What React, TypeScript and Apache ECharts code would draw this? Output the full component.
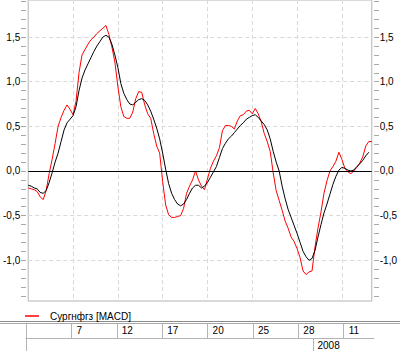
import React, { useEffect, useRef } from 'react';
import * as echarts from 'echarts';

// ---- data ----
const pointCount = 116;
const categories: string[] = Array.from({ length: pointCount }, (_, i) => String(i));

const macd: number[] = [
  -0.19, -0.20, -0.21, -0.23, -0.29, -0.32, -0.22, -0.03, 0.13, 0.31,
  0.50, 0.60, 0.68, 0.74, 0.69, 0.63, 0.78, 1.10, 1.30, 1.36,
  1.42, 1.47, 1.50, 1.54, 1.57, 1.60, 1.63, 1.53, 1.39, 1.22,
  0.95, 0.72, 0.61, 0.59, 0.59, 0.66, 0.81, 0.89, 0.88, 0.74,
  0.64, 0.59, 0.42, 0.28, 0.20, -0.12, -0.38, -0.49, -0.52, -0.52,
  -0.51, -0.50, -0.42, -0.25, -0.17, -0.10, 0.00, -0.10, -0.17, -0.21,
  -0.09, 0.03, 0.11, 0.17, 0.26, 0.45, 0.51, 0.51, 0.50, 0.47,
  0.56, 0.62, 0.63, 0.67, 0.68, 0.64, 0.70, 0.64, 0.55, 0.42,
  0.33, 0.22, -0.02, -0.22, -0.33, -0.44, -0.56, -0.64, -0.74, -0.79,
  -0.87, -0.97, -1.12, -1.16, -1.13, -1.12, -0.85, -0.64, -0.46, -0.25,
  -0.11, 0.00, 0.05, 0.11, 0.21, 0.13, 0.03, -0.01, -0.03, 0.00,
  0.04, 0.09, 0.16, 0.28, 0.33, 0.33,
];

const signal: number[] = [
  -0.16, -0.17, -0.19, -0.20, -0.24, -0.25, -0.22, -0.13, -0.02, 0.10,
  0.20, 0.33, 0.46, 0.54, 0.58, 0.62, 0.72, 0.90, 1.04, 1.13,
  1.20, 1.27, 1.34, 1.40, 1.45, 1.50, 1.52, 1.50, 1.42, 1.30,
  1.16, 0.98, 0.87, 0.80, 0.75, 0.74, 0.77, 0.80, 0.81, 0.79,
  0.74, 0.67, 0.58, 0.48, 0.36, 0.20, 0.02, -0.14, -0.25, -0.32,
  -0.37, -0.39, -0.37, -0.32, -0.25, -0.19, -0.16, -0.16, -0.19, -0.17,
  -0.13, -0.07, -0.01, 0.05, 0.15, 0.25, 0.31, 0.36, 0.39, 0.43,
  0.47, 0.51, 0.54, 0.58, 0.60, 0.62, 0.63, 0.60, 0.56, 0.52,
  0.46, 0.36, 0.22, 0.10, 0.00, -0.17, -0.31, -0.43, -0.52, -0.61,
  -0.70, -0.80, -0.90, -0.96, -1.00, -0.98, -0.89, -0.74, -0.60, -0.47,
  -0.37, -0.26, -0.15, -0.06, 0.01, 0.04, 0.03, 0.01, 0.00, 0.01,
  0.05, 0.08, 0.12, 0.17, 0.21,
];

const periodStarts: number[] = [15, 30, 45, 60, 75, 90, 105];
const periodLabels: string[] = ['7', '12', '17', '20', '25', '28', '11'];
const yearStarts: number[] = [95];
const yearLabels: string[] = ['2008'];

const seriesName = 'Сургнфгз [MACD]';

// ---- layout ----
const W = 400;
const H = 351;
const PLOT_LEFT = 26;
const PLOT_W = 348;
const PLOT_H = 301;
const Y_MIN = -1.456;
const Y_MAX = 1.915;
const TICK_MIN = -1.4;
const TICK_MAX = 1.9;
const FONT = 'Liberation Sans';
const FRAME = '#b4b4b4';
const GRIDLINE = '#d9d9d9';

const fmtY = (v: number) => {
  const r = Math.round(v * 2) / 2;
  if (Math.abs(v - r) > 1e-6) return '';
  return r.toFixed(1).replace('.', ',');
};

export default function App() {
  const ref = useRef<HTMLDivElement>(null);

  useEffect(() => {
    if (!ref.current) return;
    const chart = echarts.init(ref.current, undefined, { renderer: 'svg' });
    const span = Y_MAX - Y_MIN;
    const tickTop = (PLOT_H * (Y_MAX - TICK_MAX)) / span;
    const tickH = (PLOT_H * (TICK_MAX - TICK_MIN)) / span;
    const row1Top = 323;
    const row1H = 15.5;
    const row2Top = row1Top + row1H;
    const row2H = H - row2Top;

    const isPeriod = (i: number) => periodStarts.includes(i);
    const isYear = (i: number) => yearStarts.includes(i);

    const tickAxis = (pos: 'left' | 'right') => ({
      gridIndex: 1,
      type: 'value',
      position: pos,
      min: TICK_MIN,
      max: TICK_MAX,
      interval: 0.1,
      axisLine: { show: false },
      axisTick: { show: true, length: 5, lineStyle: { color: '#a8a8a8' } },
      axisLabel: { show: false },
      splitLine: { show: false },
    });

    const labelAxis = (pos: 'left' | 'right', split: boolean) => ({
      gridIndex: 0,
      type: 'value',
      position: pos,
      min: Y_MIN,
      max: Y_MAX,
      splitNumber: 7,
      axisLine: { show: false },
      axisTick: { show: false },
      axisLabel: {
        show: true,
        margin: 8,
        color: '#000',
        fontSize: 10,
        fontFamily: FONT,
        formatter: fmtY,
      },
      splitLine: {
        show: split,
        lineStyle: { color: GRIDLINE, type: [4, 3], width: 1 },
      },
    });

    const frameY = (gi: number) => ({
      gridIndex: gi,
      type: 'value',
      min: 0,
      max: 1,
      axisLine: { show: true, onZero: false, lineStyle: { color: FRAME } },
      axisTick: { show: false },
      axisLabel: { show: false },
      splitLine: { show: false },
    });

    chart.setOption({
      animation: false,
      grid: [
        {
          left: PLOT_LEFT, top: 0, width: PLOT_W, height: PLOT_H,
          show: true, borderColor: FRAME, borderWidth: 1, backgroundColor: 'transparent',
        },
        { left: PLOT_LEFT, top: tickTop, width: PLOT_W, height: tickH },
        { left: PLOT_LEFT, top: row1Top, width: PLOT_W, height: row1H },
        { left: PLOT_LEFT, top: row2Top, width: PLOT_W, height: row2H },
      ],
      legend: {
        data: [seriesName],
        left: 20,
        top: 306,
        icon: 'rect',
        itemWidth: 14,
        itemHeight: 1.5,
        textStyle: { fontSize: 10, color: '#000', fontFamily: FONT, padding: [0, 0, 0, 6] },
      },
      xAxis: [
        {
          gridIndex: 0,
          type: 'category',
          data: categories,
          boundaryGap: false,
          axisLine: { show: false, onZero: false },
          axisTick: { show: false },
          axisLabel: { show: false },
          splitLine: {
            show: true,
            interval: (i: number) => isPeriod(i),
            lineStyle: { color: GRIDLINE, type: [4, 3], width: 1 },
          },
        },
        {
          gridIndex: 1,
          type: 'category',
          data: categories,
          boundaryGap: false,
          show: false,
          axisLine: { onZero: false },
        },
        {
          gridIndex: 2,
          type: 'category',
          data: categories,
          boundaryGap: false,
          position: 'bottom',
          axisLine: { show: true, onZero: false, lineStyle: { color: FRAME } },
          axisTick: {
            show: true,
            inside: true,
            length: row1H,
            interval: (i: number) => isPeriod(i),
            lineStyle: { color: FRAME },
          },
          axisLabel: {
            show: true,
            inside: true,
            margin: 3,
            interval: (i: number) => isPeriod(i),
            formatter: (_v: string, i: number) => {
              const k = periodStarts.indexOf(i);
              return k >= 0 ? periodLabels[k] : '';
            },
            align: 'left',
            padding: [0, 0, 0, 5],
            color: '#000',
            fontSize: 10,
            fontFamily: FONT,
          },
          splitLine: { show: false },
        },
        {
          gridIndex: 3,
          type: 'category',
          data: categories,
          boundaryGap: false,
          position: 'top',
          axisLine: { show: false, onZero: false },
          axisTick: {
            show: true,
            inside: true,
            length: row2H,
            interval: (i: number) => isYear(i),
            lineStyle: { color: FRAME },
          },
          axisLabel: {
            show: true,
            inside: true,
            margin: 2,
            interval: (i: number) => isYear(i),
            formatter: (_v: string, i: number) => {
              const k = yearStarts.indexOf(i);
              return k >= 0 ? yearLabels[k] : '';
            },
            align: 'left',
            padding: [0, 0, 0, 4],
            color: '#000',
            fontSize: 10,
            fontFamily: FONT,
          },
          splitLine: { show: false },
        },
      ],
      yAxis: [
        labelAxis('left', true),
        labelAxis('right', false),
        tickAxis('left'),
        tickAxis('right'),
        frameY(2),
        frameY(3),
      ],
      graphic: [
        { type: 'line', shape: { x1: 0, y1: 321.5, x2: W, y2: 321.5 }, style: { stroke: '#8c8c8c', lineWidth: 1 } },
        { type: 'line', shape: { x1: 0, y1: 323.5, x2: W, y2: 323.5 }, style: { stroke: '#a8a8a8', lineWidth: 1 } },
      ],
      series: [
        {
          name: seriesName,
          type: 'line',
          xAxisIndex: 0,
          yAxisIndex: 0,
          data: macd,
          symbol: 'none',
          showSymbol: false,
          lineStyle: { color: '#ff0000', width: 1 },
          itemStyle: { color: '#ff0000' },
          markLine: {
            silent: true,
            symbol: ['none', 'none'],
            label: { show: false },
            lineStyle: { color: '#000', type: 'solid', width: 1 },
            data: [{ yAxis: 0 }],
          },
          z: 3,
        },
        {
          name: 'Signal',
          type: 'line',
          xAxisIndex: 0,
          yAxisIndex: 0,
          data: signal,
          symbol: 'none',
          showSymbol: false,
          lineStyle: { color: '#000', width: 1 },
          itemStyle: { color: '#000' },
          z: 4,
        },
      ],
    });
    return () => chart.dispose();
  }, []);

  return (
    <div
      ref={ref}
      style={{ position: 'fixed', left: 0, top: 0, width: W, height: H, background: '#fff' }}
    />
  );
}
